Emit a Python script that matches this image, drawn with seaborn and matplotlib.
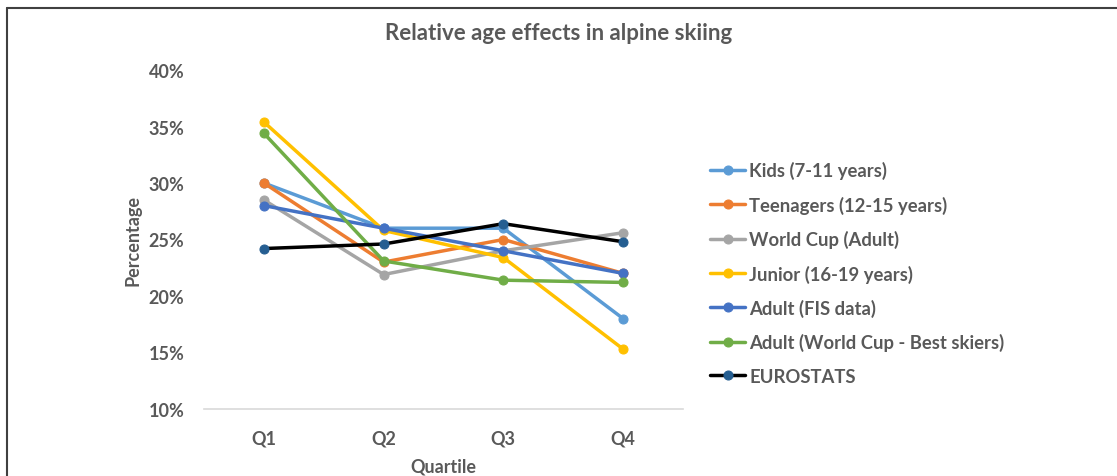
import matplotlib
matplotlib.use("Agg")
import matplotlib.pyplot as plt
from matplotlib.lines import Line2D
from matplotlib.ticker import PercentFormatter
import pandas as pd
import seaborn as sns

quartiles = ["Q1", "Q2", "Q3", "Q4"]

kids = [30.0, 26.0, 26.0, 18.0]
teenagers = [30.0, 23.0, 25.0, 22.0]
world_cup = [28.5, 21.9, 24.0, 25.6]
junior = [35.4, 25.8, 23.4, 15.3]
adult_fis = [28.0, 26.0, 24.0, 22.0]
adult_best = [34.4, 23.1, 21.4, 21.2]
eurostats = [24.2, 24.6, 26.4, 24.8]

series_names = [
    "Kids (7-11 years)",
    "Teenagers (12-15 years)",
    "World Cup (Adult)",
    "Junior (16-19 years)",
    "Adult (FIS data)",
    "Adult (World Cup - Best skiers)",
    "EUROSTATS",
]
series_values = [kids, teenagers, world_cup, junior, adult_fis, adult_best, eurostats]
line_colors = ["#5B9BD5", "#ED7D31", "#A5A5A5", "#FFC000", "#4472C4", "#70AD47", "#000000"]
marker_colors = ["#5B9BD5", "#ED7D31", "#A5A5A5", "#FFC000", "#4472C4", "#70AD47", "#255E91"]

sns.set_theme(style="white")
plt.rcParams["font.family"] = ["Lato", "DejaVu Sans"]

text_color = "#595959"

fig = plt.figure(figsize=(11.17, 4.77), dpi=100)
ax = fig.add_axes([204 / 1117, 1 - 410 / 477, (683 - 204) / 1117, (410 - 71) / 477])

for name, vals, lc, mc in zip(series_names, series_values, line_colors, marker_colors):
    df = pd.DataFrame({"Quartile": quartiles, "Percentage": vals})
    sns.lineplot(
        data=df, x="Quartile", y="Percentage", ax=ax, sort=False,
        color=lc, linewidth=2.5, marker="o", markersize=6.5,
        markerfacecolor=mc, markeredgecolor=mc, label=name,
    )

ax.set_xlim(-0.5, 3.5)
ax.set_ylim(10, 40)
ax.set_yticks([10, 15, 20, 25, 30, 35, 40])
ax.yaxis.set_major_formatter(PercentFormatter(decimals=0))
ax.grid(False)
for side in ["top", "right", "left"]:
    ax.spines[side].set_visible(False)
ax.spines["bottom"].set_color("#D9D9D9")
ax.spines["bottom"].set_linewidth(1.2)
ax.tick_params(axis="both", length=0, labelsize=13, labelcolor=text_color)
for lbl in ax.get_xticklabels() + ax.get_yticklabels():
    lbl.set_fontweight("bold")
ax.tick_params(axis="y", pad=14)
ax.tick_params(axis="x", pad=15)

ax.set_xlabel("Quartile", fontsize=13, fontweight="bold", color=text_color, labelpad=8)
ax.set_ylabel("Percentage", fontsize=13, fontweight="bold", color=text_color, labelpad=5)

fig.text(0.5, 1 - 34 / 477, "Relative age effects in alpine skiing",
         ha="center", va="center", fontsize=16, fontweight="bold", color=text_color)

handles, labels = ax.get_legend_handles_labels()
leg = fig.legend(handles, labels, loc="upper left", bbox_to_anchor=(703 / 1117, 1 - 155 / 477),
                 frameon=False, fontsize=13.3, handlelength=1.9, handletextpad=0.2,
                 labelspacing=0.88, borderaxespad=0)
for t in leg.get_texts():
    t.set_color(text_color)
    t.set_fontweight("bold")
if ax.get_legend():
    ax.get_legend().remove()

# frame lines along the top and left edges
fig.add_artist(Line2D([7 / 1117, 1], [1 - 9 / 477, 1 - 9 / 477], transform=fig.transFigure,
                      color="#404040", linewidth=1.5))
fig.add_artist(Line2D([7 / 1117, 7 / 1117], [0, 1 - 9 / 477], transform=fig.transFigure,
                      color="#404040", linewidth=1.5))

fig.savefig("out.png", dpi=100, facecolor="white")
